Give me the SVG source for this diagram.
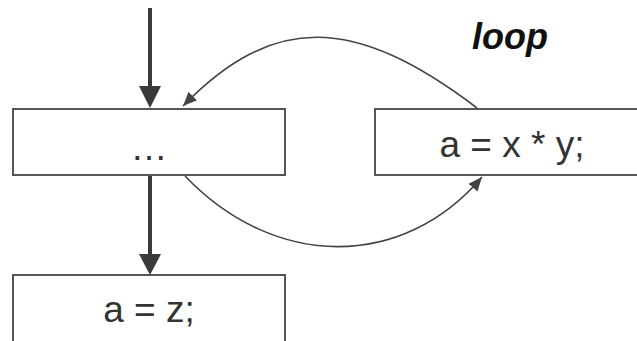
<svg xmlns="http://www.w3.org/2000/svg" width="637" height="341" viewBox="0 0 637 341">
<style>
.box{fill:#fff;stroke:#555;stroke-width:2}
.lbl{font-family:"Liberation Sans",Arial,sans-serif;font-size:37px;fill:#333;text-anchor:middle}
.flow{stroke:#3a3a3a;stroke-width:4;fill:none}
.curve{stroke:#444;stroke-width:1.6;fill:none;marker-end:url(#small)}
</style>
<defs>
<marker id="small" markerUnits="userSpaceOnUse" markerWidth="16" markerHeight="12" refX="14" refY="6" orient="auto">
<path d="M0,0 L14,6 L0,12 z" fill="#444"/>
</marker>
</defs>
<rect width="637" height="341" fill="#fff"/>
<g id="connectors">
<line class="flow" x1="150" y1="8" x2="150" y2="90"/>
<polygon points="139,86 161,86 150,108" fill="#3a3a3a"/>
<line class="flow" x1="150" y1="176" x2="150" y2="257"/>
<polygon points="139,254 161,254 150,275" fill="#3a3a3a"/>
<path class="curve" d="M477,108 C353,14 273,14 183,106"/>
<path class="curve" d="M185,176 C275,270 403,270 482,177"/>
</g>
<g id="node-dots">
<rect class="box" x="13" y="109" width="272" height="66"/>
<text class="lbl" x="149" y="160">…</text>
</g>
<g id="node-axy">
<rect class="box" x="375" y="109" width="270" height="66"/>
<text class="lbl" x="512" y="157">a = x * y;</text>
</g>
<g id="node-az">
<rect class="box" x="13" y="275" width="272" height="70"/>
<text class="lbl" x="149" y="322">a = z;</text>
</g>
<g id="label-loop">
<text x="472" y="49" style="font-family:'Liberation Sans',Arial,sans-serif;font-size:36px;font-style:italic;font-weight:bold;fill:#111">loop</text>
</g>
</svg>
